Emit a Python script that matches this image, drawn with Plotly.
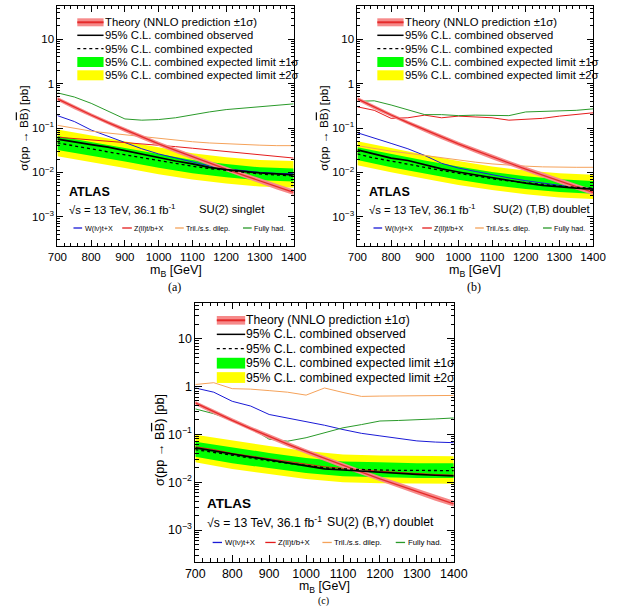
import plotly.graph_objects as go

# ---------------- data ----------------
mass = [700, 750, 800, 850, 900, 950, 1000, 1050, 1100, 1150, 1200, 1250, 1300, 1350, 1400]
mass_band = [700, 800, 900, 1000, 1100, 1200, 1300, 1400]

theory = [0.455, 0.295, 0.196, 0.132, 0.0903, 0.0627, 0.0440, 0.0313, 0.0224, 0.0162, 0.0118, 0.00865, 0.00639, 0.00475, 0.00354]
theory_hi = [0.50, 0.325, 0.216, 0.146, 0.100, 0.070, 0.049, 0.035, 0.025, 0.0182, 0.0133, 0.0098, 0.0073, 0.0055, 0.0041]
theory_lo = [0.41, 0.266, 0.176, 0.119, 0.081, 0.056, 0.039, 0.0278, 0.0198, 0.0143, 0.0104, 0.0076, 0.0056, 0.0041, 0.0031]

# (a) SU(2) singlet
obs_a = [0.056, 0.048, 0.042, 0.037, 0.031, 0.025, 0.021, 0.018, 0.0155, 0.013, 0.0115, 0.0105, 0.0097, 0.0092, 0.0088]
exp_a = [0.046, 0.040, 0.034, 0.029, 0.025, 0.021, 0.018, 0.0158, 0.0137, 0.0122, 0.011, 0.0100, 0.0092, 0.0087, 0.0083]
p2_a = [0.092, 0.068, 0.050, 0.036, 0.027, 0.022, 0.019, 0.018]
p1_a = [0.066, 0.048, 0.035, 0.026, 0.019, 0.0155, 0.013, 0.0122]
m1_a = [0.032, 0.024, 0.0175, 0.0127, 0.0096, 0.0078, 0.0066, 0.0062]
m2_a = [0.023, 0.017, 0.0125, 0.0091, 0.0069, 0.0056, 0.0048, 0.0045]
wlv_a = [0.19, 0.14, 0.09, 0.065, 0.047, 0.034, 0.026, 0.021, 0.017, 0.014, 0.012, 0.0108, 0.0100, 0.0095, 0.0093]
zll_a = [0.062, 0.058, 0.054, 0.051, 0.048, 0.045, 0.042, 0.038, 0.035, 0.032, 0.029, 0.027, 0.025, 0.023, 0.021]
tril_a = [0.115, 0.098, 0.085, 0.077, 0.070, 0.063, 0.058, 0.053, 0.049, 0.046, 0.044, 0.042, 0.041, 0.040, 0.040]
had_a = [0.62, 0.50, 0.36, 0.24, 0.16, 0.15, 0.155, 0.17, 0.20, 0.23, 0.26, 0.28, 0.30, 0.32, 0.35]

# (b) SU(2) (T,B) doublet
obs_b = [0.032, 0.026, 0.021, 0.0185, 0.015, 0.012, 0.0102, 0.0088, 0.0074, 0.0065, 0.0057, 0.0051, 0.0047, 0.0044, 0.0042]
exp_b = [0.026, 0.021, 0.018, 0.0155, 0.013, 0.011, 0.0095, 0.0083, 0.0072, 0.0064, 0.0058, 0.0053, 0.0049, 0.0046, 0.0044]
p2_b = [0.050, 0.035, 0.025, 0.018, 0.0135, 0.011, 0.0095, 0.0088]
p1_b = [0.037, 0.026, 0.0185, 0.0135, 0.0102, 0.0082, 0.0070, 0.0064]
m1_b = [0.019, 0.013, 0.0094, 0.0068, 0.0052, 0.0042, 0.0036, 0.0033]
m2_b = [0.0145, 0.010, 0.0072, 0.0052, 0.0040, 0.0032, 0.0027, 0.0025]
wlv_b = [0.078, 0.060, 0.045, 0.034, 0.024, 0.016, 0.0125, 0.0105, 0.0088, 0.0075, 0.0065, 0.0057, 0.0051, 0.0046, 0.0043]
zll_b = [0.30, 0.25, 0.165, 0.17, 0.195, 0.17, 0.185, 0.18, 0.17, 0.15, 0.155, 0.165, 0.185, 0.20, 0.22]
tril_b = [0.040, 0.034, 0.030, 0.027, 0.024, 0.021, 0.019, 0.017, 0.0155, 0.0145, 0.0138, 0.0133, 0.013, 0.013, 0.013]
had_b = [0.40, 0.41, 0.33, 0.26, 0.20, 0.20, 0.19, 0.195, 0.19, 0.19, 0.23, 0.235, 0.24, 0.25, 0.27]

# (c) SU(2) (B,Y) doublet
obs_c = [0.052, 0.045, 0.038, 0.033, 0.029, 0.025, 0.022, 0.019, 0.018, 0.017, 0.016, 0.0152, 0.0146, 0.014, 0.0136]
exp_c = [0.048, 0.042, 0.036, 0.032, 0.028, 0.025, 0.022, 0.020, 0.019, 0.0183, 0.018, 0.0177, 0.0175, 0.0175, 0.0175]
p2_c = [0.098, 0.074, 0.057, 0.045, 0.038, 0.036, 0.035, 0.035]
p1_c = [0.070, 0.053, 0.041, 0.032, 0.027, 0.026, 0.025, 0.025]
m1_c = [0.034, 0.025, 0.0195, 0.0155, 0.0133, 0.0126, 0.0123, 0.0123]
m2_c = [0.026, 0.019, 0.0148, 0.0117, 0.010, 0.0095, 0.0093, 0.0093]
wlv_c = [0.93, 0.76, 0.49, 0.39, 0.26, 0.22, 0.19, 0.155, 0.126, 0.105, 0.093, 0.082, 0.073, 0.069, 0.067]
zll_c = [0.055, 0.048, 0.040, 0.035, 0.031, 0.027, 0.024, 0.021, 0.0195, 0.018, 0.017, 0.016, 0.015, 0.0145, 0.014]
tril_c = [1.1, 1.2, 0.90, 0.88, 0.82, 0.76, 0.66, 0.93, 0.75, 0.62, 0.63, 0.64, 0.64, 0.65, 0.65]
had_c = [0.34, 0.27, 0.20, 0.137, 0.079, 0.072, 0.085, 0.107, 0.137, 0.16, 0.19, 0.195, 0.20, 0.21, 0.22]

x_ticks = [700, 800, 900, 1000, 1100, 1200, 1300, 1400]
y_ticks = [1e-3, 1e-2, 1e-1, 1, 10]
y_ticktext = ["10<sup>\u22123</sup>", "10<sup>\u22122</sup>", "10<sup>\u22121</sup>", "1", "10"]

legend_labels = ["Theory (NNLO prediction \u00b11\u03c3)", "95% C.L. combined observed",
                 "95% C.L. combined expected", "95% C.L. combined expected limit \u00b11\u03c3",
                 "95% C.L. combined expected limit \u00b12\u03c3"]
channel_labels = ["W(l\u03bd)t+X", "Z(ll)t/b+X", "Tril./s.s. dilep.", "Fully had."]
model_labels = ["SU(2) singlet", "SU(2) (T,B) doublet", "SU(2) (B,Y) doublet"]
captions = ["(a)", "(b)", "(c)"]

# ---------------- style ----------------
W, H = 625, 606
FONT = "Liberation Sans, Arial, Helvetica, sans-serif"
C_YEL = "#ffff00"
C_GRN = "#00ff00"
C_TH_BAND = "#f68a8a"
C_TH = "#e52a2a"
C_W = "#1a1ad6"
C_Z = "#e41c1c"
C_TR = "#f5a25a"
C_HAD = "#2a9a2a"

def px(x):
    return x / W

def py(y):
    return 1 - y / H

panels = [
    dict(sfx="", left=49.3, right=295.0, top=6.0, bottom=246.0, s=1.0, su_x=145, ytc=128,
         xt_y=271, xt_size=12.5, cap=287, cap_size=12,
         data=(obs_a, exp_a, p2_a, p1_a, m1_a, m2_a, wlv_a, zll_a, tril_a, had_a)),
    dict(sfx="2", left=361.3, right=606.3, top=6.0, bottom=246.0, s=1.0, su_x=139, ytc=128,
         xt_y=271, xt_size=12.5, cap=287, cap_size=12,
         data=(obs_b, exp_b, p2_b, p1_b, m1_b, m2_b, wlv_b, zll_b, tril_b, had_b)),
    dict(sfx="3", left=192.7, right=461.5, top=302.7, bottom=561.7, s=1.08, su_x=125, ytc=440,
         xt_y=587, xt_size=12.3, cap=601, cap_size=10,
         data=(obs_c, exp_c, p2_c, p1_c, m1_c, m2_c, wlv_c, zll_c, tril_c, had_c)),
]

fig = go.Figure()
shapes = []
annotations = []
layout_axes = {}

minor_y = [m * 10 ** e for e in range(-4, 2) for m in range(2, 10)]

for i, P in enumerate(panels):
    obs, exp, p2, p1, m1, m2, wlv, zll, tril, had = P["data"]
    xa = "x" + P["sfx"]
    ya = "y" + P["sfx"]
    s = P["s"]
    common = dict(xaxis=xa, yaxis=ya, showlegend=False, hoverinfo="skip")
    # bands
    fig.add_trace(go.Scatter(x=mass_band + mass_band[::-1], y=p2 + m2[::-1], fill="toself",
                             fillcolor=C_YEL, mode="lines", line=dict(width=0, color=C_YEL), **common))
    fig.add_trace(go.Scatter(x=mass_band + mass_band[::-1], y=p1 + m1[::-1], fill="toself",
                             fillcolor=C_GRN, mode="lines", line=dict(width=0, color=C_GRN), **common))
    # channels
    fig.add_trace(go.Scatter(x=mass, y=wlv, mode="lines", line=dict(color=C_W, width=1), **common))
    fig.add_trace(go.Scatter(x=mass, y=zll, mode="lines", line=dict(color=C_Z, width=1), **common))
    fig.add_trace(go.Scatter(x=mass, y=tril, mode="lines", line=dict(color=C_TR, width=1), **common))
    fig.add_trace(go.Scatter(x=mass, y=had, mode="lines", line=dict(color=C_HAD, width=1), **common))
    # theory
    fig.add_trace(go.Scatter(x=mass + mass[::-1], y=theory_hi + theory_lo[::-1], fill="toself",
                             fillcolor=C_TH_BAND, mode="lines", line=dict(width=0, color=C_TH_BAND), **common))
    fig.add_trace(go.Scatter(x=mass, y=theory, mode="lines", line=dict(color=C_TH, width=1.3), **common))
    # limits
    fig.add_trace(go.Scatter(x=mass, y=exp, mode="lines", line=dict(color="black", width=1.3, dash="dot"), **common))
    fig.add_trace(go.Scatter(x=mass, y=obs, mode="lines", line=dict(color="black", width=1.7), **common))

    ax_font = dict(family=FONT, size=11.5 * s, color="black")
    layout_axes["xaxis" + P["sfx"]] = dict(
        domain=[px(P["left"]), px(P["right"])], anchor=ya, range=[700, 1400],
        tickmode="array", tickvals=x_ticks, ticks="inside", ticklen=6 * s, tickcolor="black",
        showline=True, linecolor="black", linewidth=1, mirror="allticks", showgrid=False,
        zeroline=False, tickfont=ax_font,
        minor=dict(ticks="inside", dtick=20, ticklen=3 * s, tickcolor="black", showgrid=False))
    layout_axes["yaxis" + P["sfx"]] = dict(
        domain=[py(P["bottom"]), py(P["top"])], anchor=xa, type="log", range=[-3.66, 1.75],
        tickmode="array", tickvals=y_ticks, ticktext=y_ticktext, ticks="inside", ticklen=6 * s,
        tickcolor="black", showline=True, linecolor="black", linewidth=1, mirror="allticks",
        showgrid=False, zeroline=False, tickfont=ax_font,
        minor=dict(ticks="inside", tickmode="array", tickvals=minor_y, ticklen=3 * s,
                   tickcolor="black", showgrid=False))

    L, T = P["left"], P["top"]

    def X(r):
        return px(L + r * s)

    def Y(r):
        return py(T + r * s)

    # main legend
    gx0, gx1 = 20.7, 48.0
    rows = [16.3, 29.3, 42.6, 56.0, 69.3]
    shapes.append(dict(type="rect", xref="paper", yref="paper", x0=X(gx0), x1=X(gx1),
                       y0=Y(rows[0] - 4), y1=Y(rows[0] + 4), fillcolor=C_TH_BAND, line=dict(width=0)))
    shapes.append(dict(type="line", xref="paper", yref="paper", x0=X(gx0), x1=X(gx1),
                       y0=Y(rows[0]), y1=Y(rows[0]), line=dict(color=C_TH, width=2)))
    shapes.append(dict(type="line", xref="paper", yref="paper", x0=X(gx0), x1=X(gx1),
                       y0=Y(rows[1]), y1=Y(rows[1]), line=dict(color="black", width=1.5)))
    shapes.append(dict(type="line", xref="paper", yref="paper", x0=X(gx0), x1=X(gx1),
                       y0=Y(rows[2]), y1=Y(rows[2]), line=dict(color="black", width=1.3, dash="dot")))
    shapes.append(dict(type="rect", xref="paper", yref="paper", x0=X(gx0), x1=X(gx1),
                       y0=Y(rows[3] - 5), y1=Y(rows[3] + 5), fillcolor=C_GRN, line=dict(width=0)))
    shapes.append(dict(type="rect", xref="paper", yref="paper", x0=X(gx0), x1=X(gx1),
                       y0=Y(rows[4] - 5), y1=Y(rows[4] + 5), fillcolor=C_YEL, line=dict(width=0)))
    for r, lab in zip(rows, legend_labels):
        annotations.append(dict(x=X(gx1 - 1.0), y=Y(r), xref="paper", yref="paper", text=lab,
                                showarrow=False, xanchor="left", yanchor="middle",
                                font=dict(family=FONT, size=11.3 * s, color="black")))

    # ATLAS label
    annotations.append(dict(x=X(9.5), y=Y(185.7), xref="paper", yref="paper", text="<b>ATLAS</b>",
                            showarrow=False, xanchor="left", yanchor="middle",
                            font=dict(family=FONT, size=12.5 * s, color="black")))
    annotations.append(dict(x=X(9.5), y=Y(203), xref="paper", yref="paper",
                            text="\u221as = 13 TeV, 36.1 fb<sup>-1</sup>",
                            showarrow=False, xanchor="left", yanchor="middle",
                            font=dict(family=FONT, size=11.3 * s, color="black")))
    annotations.append(dict(x=px(L + P["su_x"] * s), y=Y(203), xref="paper", yref="paper",
                            text=model_labels[i], showarrow=False, xanchor="left", yanchor="middle",
                            font=dict(family=FONT, size=11.3 * s, color="black")))
    # channel legend
    ch_pos = [(16.7, 25.7), (67.4, 77.4), (122.4, 131.4), (193.0, 202.0)]
    ch_cols = [C_W, C_Z, C_TR, C_HAD]
    for (a0, a1), col, lab in zip(ch_pos, ch_cols, channel_labels):
        shapes.append(dict(type="line", xref="paper", yref="paper", x0=X(a0), x1=X(a1),
                           y0=Y(222), y1=Y(222), line=dict(color=col, width=1.3)))
        annotations.append(dict(x=X(a1 + 0.5), y=Y(222), xref="paper", yref="paper", text=lab,
                                showarrow=False, xanchor="left", yanchor="middle",
                                font=dict(family=FONT, size=7.2 * s, color="black")))

    # axis titles
    cx = (P["left"] + P["right"]) / 2
    annotations.append(dict(x=px(cx), y=py(P["xt_y"]), xref="paper", yref="paper",
                            text="m<sub>B</sub> [GeV]", showarrow=False, xanchor="center",
                            yanchor="middle", font=dict(family=FONT, size=P["xt_size"], color="black")))
    annotations.append(dict(x=px(P["left"] - 35 * s), y=py(P["ytc"]), xref="paper", yref="paper",
                            text="\u03c3(pp \u2192 B<span style='text-decoration:overline'>B</span>) [pb]",
                            textangle=-90, showarrow=False, xanchor="center", yanchor="middle",
                            font=dict(family=FONT, size=11.8 * s, color="black")))
    annotations.append(dict(x=px(cx - 1), y=py(P["cap"]), xref="paper", yref="paper",
                            text=captions[i], showarrow=False, xanchor="center", yanchor="middle",
                            borderpad=0,
                            font=dict(family="Liberation Serif, Times New Roman, serif", size=P["cap_size"],
                                      color="black")))

fig.update_layout(
    width=W, height=H, margin=dict(l=0, r=0, t=0, b=0),
    paper_bgcolor="white", plot_bgcolor="white",
    shapes=shapes, annotations=annotations, showlegend=False,
    **layout_axes)

fig.write_html("out.html")
